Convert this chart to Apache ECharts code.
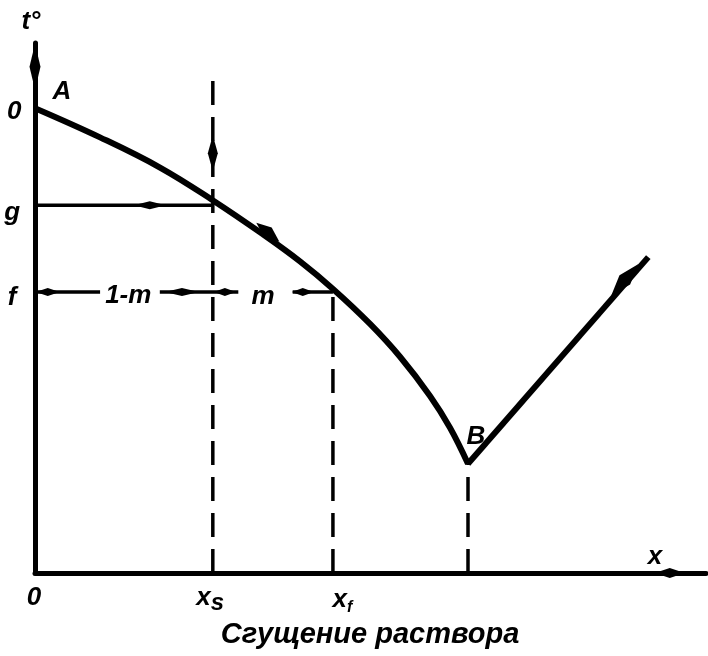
<!DOCTYPE html>
<html>
<head>
<meta charset="utf-8">
<script src="https://cdn.jsdelivr.net/npm/echarts@6/dist/echarts.min.js"></script>
<style>html,body{margin:0;padding:0;background:#fff;}#c{width:708px;height:656px;}</style>
</head>
<body>
<div id="c"></div>
<script>
// Liquidus curve A -> B (concentration x, temperature t)
const curveX = [0, 9.69, 18.63, 26.53, 33.98, 39.49, 44.41, 49.93, 54.40, 58.87, 61.85, 64.53];
const curveY = [87.7, 82.2, 76.5, 70.3, 63.9, 58.8, 53.6, 47.0, 40.8, 33.4, 27.4, 20.6];
// Branch rising from eutectic point B
const risingX = [64.53, 91.4];
const risingY = [20.6, 59.6];
// Characteristic values
const xS = 26.5, xF = 44.4, xB = 64.53;
const gLevel = 69.4, fLevel = 53.0;
const xsTop = 94.0;
// f-line segments (broken for labels)
const fSegX = [[0, 9.7], [18.6, 30.3], [38.4, 44.4]];
// Text labels
const labelTexts = ['t°', '0', 'A', 'g', 'f', '1-m', 'm', 'B', 'x', '0', 'x{s|s}', 'x{f|f}'];
const labelX = [-0.6, -3.1, 4.0, -3.4, -3.4, 13.9, 34.0, 65.7, 92.4, -0.15, 26.1, 45.8];
const labelY = [104.0, 87.0, 90.8, 67.9, 51.9, 52.3, 52.1, 25.7, 3.0, -4.7, -4.7, -5.1];
const caption = 'Сгущение раствора';
// Arrow marks on lines
const arrowX = [0, 26.5, 17.1, 34.7, 87.9, 94.6, 1.9, 21.9, 28.3, 39.9];
const arrowY = [95.5, 79.2, 69.4, 64.3, 55.3, 0, 53.0, 53.0, 53.0, 53.0];
const arrowRot = [0, 0, 90, 50.4, -40.6, 90, 90, 90, 90, 90];
const arrowW = [11, 10, 8, 12, 14, 10, 8, 8, 8, 8];
const arrowL = [46, 36, 32, 30, 42, 30, 24, 34, 22, 22];

const FONT = "'Liberation Sans', 'DejaVu Sans', sans-serif";
const spindle = 'path://M0,-10 L1,0 L0,10 L-1,0 Z';

const blk = '#000';
const series = [];
series.push({
  type: 'line', data: curveX.map((x, i) => [x, curveY[i]]), smooth: 0.4,
  symbol: 'none', lineStyle: {color: blk, width: 6}, z: 5
});
series.push({
  type: 'line', data: risingX.map((x, i) => [x, risingY[i]]),
  symbol: 'none', lineStyle: {color: blk, width: 6}, z: 5
});
const dashed = (x, top) => ({
  type: 'line', data: [[x, 0], [x, top]], symbol: 'none',
  lineStyle: {color: blk, width: 3.5, type: [24, 12]}, z: 3
});
series.push(dashed(xS, xsTop));
series.push(dashed(xF, curveY[6]));
series.push(dashed(xB, curveY[11]));
series.push({
  type: 'line', data: [[0, gLevel], [xS, gLevel]], symbol: 'none',
  lineStyle: {color: blk, width: 3.5}, z: 3
});
const fData = [];
fSegX.forEach((s, i) => {
  if (i > 0) fData.push([s[0] - 1, '-']);
  fData.push([s[0], fLevel], [s[1], fLevel]);
});
series.push({
  type: 'line', data: fData, symbol: 'none', connectNulls: false,
  lineStyle: {color: blk, width: 3.5}, z: 3
});
series.push({
  type: 'scatter', clip: false, z: 6, symbolKeepAspect: false,
  data: arrowX.map((x, i) => ({
    value: [x, arrowY[i]], symbol: spindle,
    symbolSize: [arrowW[i], arrowL[i]], symbolRotate: arrowRot[i]
  })),
  itemStyle: {color: blk, opacity: 1}
});
series.push({
  type: 'scatter', clip: false, z: 7, symbolSize: 0,
  itemStyle: {opacity: 1},
  data: labelTexts.map((t, i) => ({name: t, value: [labelX[i], labelY[i]]})),
  label: {
    show: true, position: 'inside', formatter: p => p.name,
    color: blk, fontFamily: FONT, fontWeight: 'bold', fontStyle: 'italic', fontSize: 26,
    rich: {
      s: {fontFamily: FONT, fontWeight: 'bold', fontStyle: 'italic', fontSize: 24, color: blk, padding: [10, 0, 0, 0]},
      f: {fontFamily: FONT, fontWeight: 'bold', fontStyle: 'italic', fontSize: 16, color: blk, padding: [16, 0, 0, 0]}
    }
  }
});

const chart = echarts.init(document.getElementById('c'));
chart.setOption({
  backgroundColor: '#fff',
  animation: false,
  grid: {left: 35, top: 43, width: 671, height: 530},
  xAxis: {
    type: 'value', min: 0, max: 100,
    axisLine: {show: true, lineStyle: {color: blk, width: 5}},
    axisTick: {show: false}, axisLabel: {show: false}, splitLine: {show: false}
  },
  yAxis: {
    type: 'value', min: 0, max: 100,
    axisLine: {show: true, lineStyle: {color: blk, width: 5}},
    axisTick: {show: false}, axisLabel: {show: false}, splitLine: {show: false}
  },
  graphic: [{
    type: 'text', x: 370, y: 635,
    style: {text: caption, fill: blk, align: 'center', verticalAlign: 'middle',
      font: "italic bold 29px 'Liberation Sans', 'DejaVu Sans', sans-serif"}
  }],
  series: series
});
</script>
</body>
</html>
